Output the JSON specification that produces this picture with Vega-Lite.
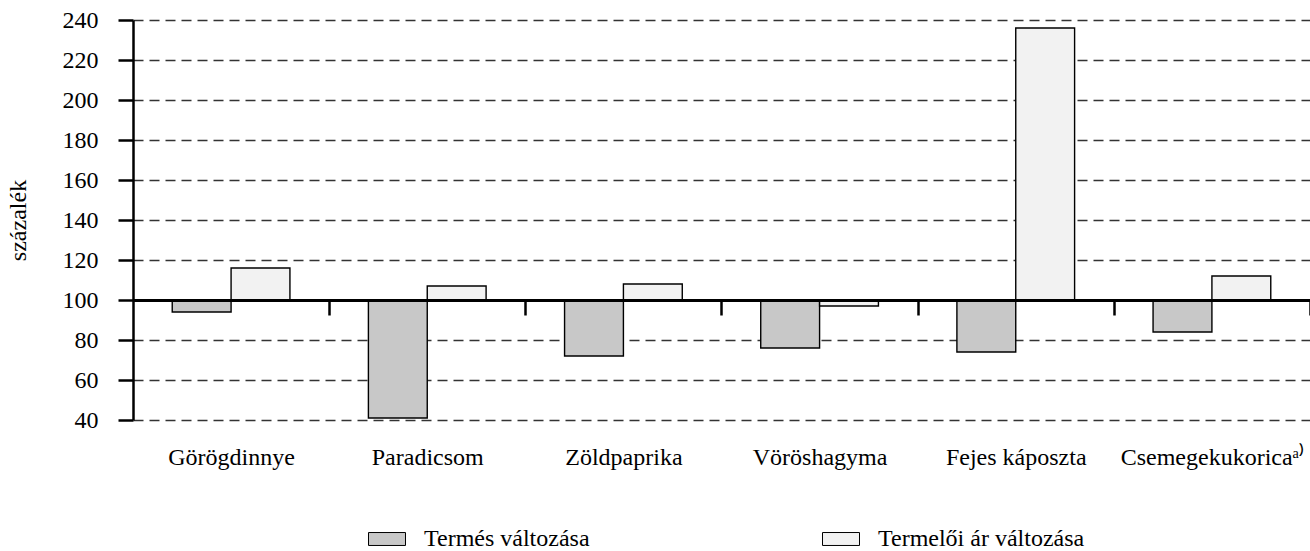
{
  "$schema": "https://vega.github.io/schema/vega-lite/v6.json",
  "width": 1177,
  "height": 400,
  "autosize": {"type": "none"},
  "padding": {"left": 133, "top": 20, "right": 0, "bottom": 131},
  "background": "white",
  "config": {
    "view": {"stroke": null},
    "font": "Liberation Serif",
    "axis": {"labelFont": "Liberation Serif", "titleFont": "Liberation Serif", "labelColor": "black", "titleColor": "black"}
  },
  "data": {
    "values": [
      {"termek": "Görögdinnye", "sorozat": "Termés változása", "ertek": 94},
      {"termek": "Görögdinnye", "sorozat": "Termelői ár változása", "ertek": 116},
      {"termek": "Paradicsom", "sorozat": "Termés változása", "ertek": 41},
      {"termek": "Paradicsom", "sorozat": "Termelői ár változása", "ertek": 107},
      {"termek": "Zöldpaprika", "sorozat": "Termés változása", "ertek": 72},
      {"termek": "Zöldpaprika", "sorozat": "Termelői ár változása", "ertek": 108},
      {"termek": "Vöröshagyma", "sorozat": "Termés változása", "ertek": 76},
      {"termek": "Vöröshagyma", "sorozat": "Termelői ár változása", "ertek": 97},
      {"termek": "Fejes káposzta", "sorozat": "Termés változása", "ertek": 74},
      {"termek": "Fejes káposzta", "sorozat": "Termelői ár változása", "ertek": 236},
      {"termek": "Csemegekukoricaᵃ⁾", "sorozat": "Termés változása", "ertek": 84},
      {"termek": "Csemegekukoricaᵃ⁾", "sorozat": "Termelői ár változása", "ertek": 112}
    ]
  },
  "mark": {"type": "bar", "stroke": "black", "strokeWidth": 1.4},
  "encoding": {
    "x": {
      "field": "termek",
      "type": "nominal",
      "sort": null,
      "title": null,
      "scale": {"paddingInner": 0.4, "paddingOuter": 0.2},
      "axis": {
        "orient": "bottom",
        "offset": -120,
        "zindex": 1,
        "domain": true,
        "domainColor": "black",
        "domainWidth": 2.8,
        "ticks": true,
        "tickOffset": 98.08,
        "labelOffset": -98.08,
        "tickColor": "black",
        "tickWidth": 2.5,
        "tickSize": 15,
        "labelAngle": 0,
        "labelFontSize": 24,
        "labelPadding": 130,
        "labelLimit": 400,
        "grid": false
      }
    },
    "xOffset": {"field": "sorozat", "sort": ["Termés változása", "Termelői ár változása"]},
    "y": {
      "field": "ertek",
      "type": "quantitative",
      "title": "százalék",
      "scale": {"domain": [40, 240], "nice": false, "zero": false},
      "axis": {
        "values": [40, 60, 80, 100, 120, 140, 160, 180, 200, 220, 240],
        "domainColor": "black",
        "domainWidth": 2.5,
        "tickColor": "black",
        "tickWidth": 2.5,
        "tickSize": 15,
        "labelFontSize": 24,
        "labelPadding": 20,
        "titleFontSize": 24,
        "titleFontWeight": "normal",
        "titlePadding": 32,
        "grid": true,
        "gridColor": "#333333",
        "gridDash": [10, 6],
        "gridWidth": 1.3
      }
    },
    "y2": {"datum": 100},
    "fill": {
      "field": "sorozat",
      "type": "nominal",
      "sort": ["Termés változása", "Termelői ár változása"],
      "scale": {"range": ["#c8c8c8", "#f2f2f2"]},
      "legend": {
        "title": null,
        "orient": "none",
        "legendX": 235,
        "legendY": 500,
        "direction": "horizontal",
        "columns": 2,
        "columnPadding": 230,
        "padding": 0,
        "symbolType": "M-1,-0.35H1V0.35H-1Z",
        "symbolSize": 1369,
        "symbolStrokeColor": "black",
        "symbolStrokeWidth": 1,
        "symbolOpacity": 1,
        "labelFont": "Liberation Serif",
        "labelFontSize": 24,
        "labelColor": "black",
        "labelOffset": 18,
        "labelLimit": 400
      }
    }
  }
}
